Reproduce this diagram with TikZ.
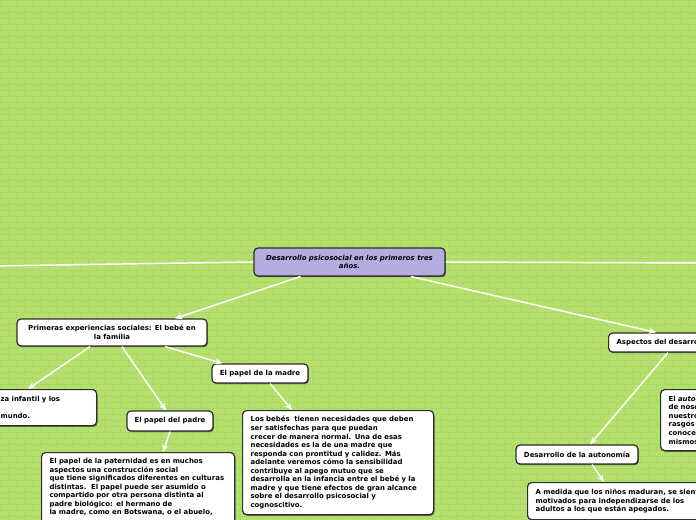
\documentclass[tikz,border=0pt]{standalone}
\usepackage{fontspec}
\setmainfont{DejaVu Sans}
\usetikzlibrary{arrows.meta,shadows,calc}
\definecolor{bg}{RGB}{181,224,110}
\definecolor{brick}{RGB}{171,215,101}
\definecolor{lav}{RGB}{180,174,224}
\definecolor{edgec}{RGB}{45,45,45}
\begin{document}
\begin{tikzpicture}[x=0.75pt,y=-0.75pt,
  box/.style={draw=edgec, line width=0.9pt, rounded corners=3pt, fill=white,
    drop shadow={shadow xshift=0.7pt, shadow yshift=-0.9pt, opacity=0.7, fill=black!80},
    font=\fontsize{5.2}{6.4}\selectfont\bfseries, inner sep=0pt},
  tbox/.style={box, anchor=north west, align=left, inner xsep=6pt},
  conn/.style={draw=white, line width=1.1pt, -{Stealth[length=5.5pt,width=4.5pt]}},
  plainline/.style={draw=white, line width=1.1pt},
]
\useasboundingbox (0,0) rectangle (696,520);
\clip (0,0) rectangle (696,520);
\fill[bg] (0,0) rectangle (696,520);
\foreach \r in {0,...,87}{
  \draw[brick, line width=0.35pt] (0,{\r*6}) -- (696,{\r*6});
  \foreach \c in {0,...,44}{
    \draw[brick, line width=0.35pt] ({\c*16+mod(\r,2)*8},{\r*6}) -- ++(0,6);
  }
}

% nodes
\node[box, fill=lav, minimum width={191*0.75pt}, minimum height={28*0.75pt}, align=center,
  font=\fontsize{5.2}{6.4}\selectfont\bfseries\itshape] (central) at (349.5,262)
  {Desarrollo psicosocial en los primeros tres\\años.};
\node[box, minimum width={190*0.75pt}, minimum height={27*0.75pt}, align=center] (primeras) at (112,332.5)
  {Primeras experiencias sociales: El bebé en\\la familia};
\node[tbox, text width={88*0.75pt}, minimum height={36*0.75pt}] (confianza) at (-8,389)
  {za infantil y los\\ \mbox{}\\ mundo.};
\node[box, minimum width={96*0.75pt}, minimum height={19*0.75pt}] (madre) at (260,373.5) {El papel de la madre};
\node[box, minimum width={86*0.75pt}, minimum height={20*0.75pt}] (padre) at (170,421) {El papel del padre};
\node[tbox, text width={175*0.75pt}, minimum height={104*0.75pt}] (madretext) at (242,410)
  {Los bebés\ \ tienen necesidades que deben\\
   ser satisfechas para que puedan\\
   crecer de manera normal. Una de esas\\
   necesidades es la de una madre que\\
   responda con prontitud y calidez. Más\\
   adelante veremos cómo la sensibilidad\\
   contribuye al apego mutuo que se\\
   desarrolla en la infancia entre el bebé y la\\
   madre y que tiene efectos de gran alcance\\
   sobre el desarrollo psicosocial y\\
   cognoscitivo.};
\node[tbox, text width={177*0.75pt}, inner ysep=4.3pt] (padretext) at (41,452)
  {El papel de la paternidad es en muchos\\
   aspectos una construcción social\\
   que tiene significados diferentes en culturas\\
   distintas.\ \ El papel puede ser asumido o\\
   compartido por otra persona distinta al\\
   padre biológico: el hermano de\\
   la madre, como en Botswana, o el abuelo,\\
   \mbox{}\\ \mbox{}};
\node[tbox, text width={140*0.75pt}, minimum height={19*0.75pt}, anchor=west] (aspectos) at (608,342.5)
  {Aspectos del desarrollo};
\node[tbox, text width={100*0.75pt}, minimum height={61*0.75pt}] (autoconcepto) at (660,389)
  {El \textit{autoco}\\ de nosot\\ nuestro\\ rasgos\\ conocer\\ mismos};
\node[box, minimum width={122*0.75pt}, minimum height={19*0.75pt}] (autonomia) at (577,454.5)
  {Desarrollo de la autonomía};
\node[tbox, text width={175*0.75pt}, minimum height={37*0.75pt}] (autotext) at (527,482)
  {A medida que los niños maduran, se sienten\\
   motivados para independizarse de los\\
   adultos a los que están apegados.};

% connectors
\coordinate (offL) at (-10,266);
\coordinate (offR) at (706,263);
\draw[plainline] (central.west) -- (offL);
\draw[plainline] (central.east) -- (offR);
\draw[conn] ($(central.south)+(-49,0)$) -- ($(primeras.north)+(63,0)$);
\draw[conn] ($(central.south)+(61.5,0)$) -- ($(aspectos.north west)+(48,0)$);
\draw[conn] ($(primeras.south)+(-22,0)$) -- ($(confianza.north west)+(36,0)$);
\draw[conn] ($(primeras.south)+(10,0)$) -- ($(padre.north)+(-4,0)$);
\draw[conn] ($(primeras.south)+(53,0)$) -- ($(madre.north west)+(11,0)$);
\draw[conn] ($(madre.south)+(10,0)$) -- ($(madretext.north west)+(50,0)$);
\draw[conn] (padre.south) -- ($(padretext.north west)+(122,0)$);
\draw[conn] ($(aspectos.south west)+(60,0)$) -- ($(autonomia.north)+(13,0)$);
\draw[conn] ($(autonomia.south)+(15,0)$) -- ($(autotext.north west)+(77,0)$);
\end{tikzpicture}
\end{document}
